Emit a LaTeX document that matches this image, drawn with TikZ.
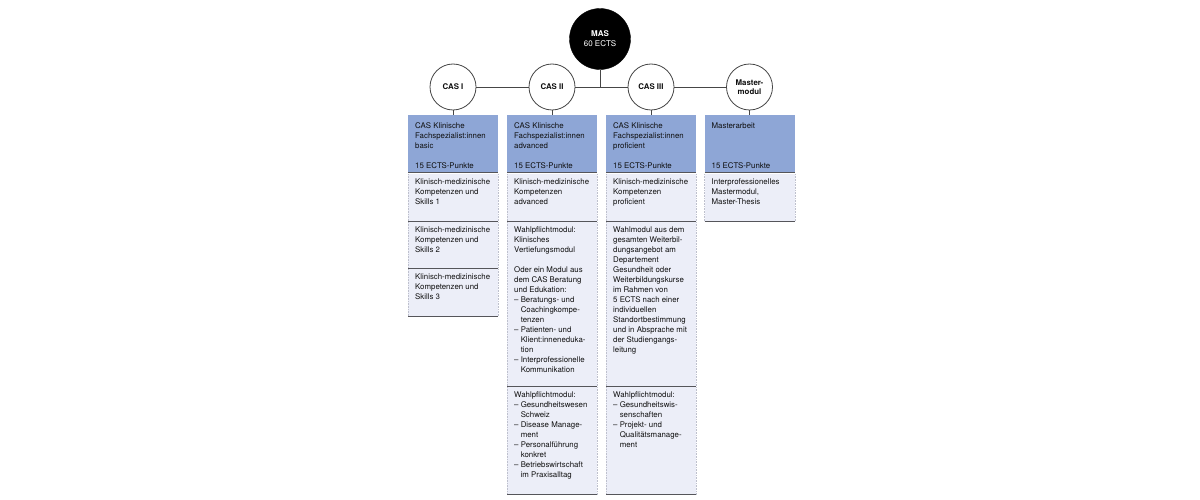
\documentclass[tikz,border=0pt]{standalone}
\usepackage{fontspec}
\setmainfont{TeX Gyre Heros}
\definecolor{hdrfill}{RGB}{142,166,214}
\definecolor{rowfill}{RGB}{236,238,248}
\definecolor{botcol}{RGB}{85,85,90}
\definecolor{sidecol}{RGB}{190,192,205}
\definecolor{txtcol}{RGB}{15,15,15}
\definecolor{linecol}{RGB}{70,70,70}
\newcommand\hng{\hphantom{–\ }}
\tikzset{
  boxtext/.style={anchor=north west, inner xsep=7pt, inner ysep=0pt, align=left, text=txtcol,
    font=\fontsize{7.85}{10}\selectfont},
  hdrbox/.style={fill=hdrfill, draw=none, anchor=north west, minimum width=90pt, inner sep=0pt},
  rowbox/.style={fill=rowfill, draw=none, anchor=north west, minimum width=90pt, inner sep=0pt},
  circ/.style={circle, draw=linecol, line width=0.8pt, fill=white, minimum size=46pt, inner sep=0pt,
    align=center, font=\fontsize{7.85}{9.5}\selectfont\bfseries, text=txtcol},
  masc/.style={circle, fill=black, draw=black, minimum size=61pt, inner sep=0pt, align=center,
    text=white, font=\fontsize{8}{10}\selectfont},
  conn/.style={draw=linecol, line width=0.8pt},
  sidel/.style={draw=sidecol, line width=0.6pt, densely dotted},
  botl/.style={draw=botcol, line width=1pt}
}
\begin{document}
\begin{tikzpicture}[x=1pt,y=-1pt]
\useasboundingbox (0,0) rectangle (1200,500);
% circles
\node[masc] (mas) at (600,39) {\textbf{MAS}\\60 ECTS};
\node[circ] (c1) at (453,87) {CAS I};
\node[circ] (c2) at (552,87) {CAS II};
\node[circ] (c3) at (651,87) {CAS III};
\node[circ] (c4) at (749.5,87) {Master-\\modul};
\coordinate (j) at (mas.south |- c2.east);
\draw[conn] (c1) -- (c2) (c2) -- (c3) (c3) -- (c4);
\draw[conn] (mas.south) -- (j);
% boxes
\node[hdrbox, minimum height=57pt] (h1) at (408,115) {};
\node[hdrbox, minimum height=57pt] (h2) at (507,115) {};
\node[hdrbox, minimum height=57pt] (h3) at (606,115) {};
\node[hdrbox, minimum height=57pt] (h4) at (704.5,115) {};
\node[rowbox, minimum height=47pt] (r11) at (408,174) {};
\node[rowbox, minimum height=46pt] (r12) at (408,222) {};
\node[rowbox, minimum height=47pt] (r13) at (408,269) {};
\node[rowbox, minimum height=47pt] (r21) at (507,174) {};
\node[rowbox, minimum height=164pt] (r22) at (507,222) {};
\node[rowbox, minimum height=107pt] (r23) at (507,387) {};
\node[rowbox, minimum height=47pt] (r31) at (606,174) {};
\node[rowbox, minimum height=164pt] (r32) at (606,222) {};
\node[rowbox, minimum height=107pt] (r33) at (606,387) {};
\node[rowbox, minimum height=47pt] (r41) at (704.5,174) {};
\foreach \n in {r11,r12,r13,r21,r22,r23,r31,r32,r33,r41} {
  \draw[sidel] (\n.north west) -- (\n.south west) (\n.north east) -- (\n.south east);
}
\foreach \n in {h1,h2,h3,h4,r11,r12,r13,r21,r22,r23,r31,r32,r33,r41} {
  \draw[botl] (\n.south west) -- (\n.south east);
}
\draw[conn] (c1.south) -- (h1.north -| c1.south);
\draw[conn] (c2.south) -- (h2.north -| c2.south);
\draw[conn] (c3.south) -- (h3.north -| c3.south);
\draw[conn] (c4.south) -- (h4.north -| c4.south);
% texts
\node[boxtext] (th1) at ([yshift=-7.5pt]h1.north west) {CAS Klinische\\Fachspezialist:innen\\basic\\[10pt]15 ECTS-Punkte};
\node[boxtext] (th2) at ([yshift=-7.5pt]h2.north west) {CAS Klinische\\Fachspezialist:innen\\advanced\\[10pt]15 ECTS-Punkte};
\node[boxtext] (th3) at ([yshift=-7.5pt]h3.north west) {CAS Klinische\\Fachspezialist:innen\\proficient\\[10pt]15 ECTS-Punkte};
\node[boxtext] (th4) at ([yshift=-7.5pt]h4.north west) {Masterarbeit\\[30pt]15 ECTS-Punkte};
\node[boxtext] (t11) at ([yshift=-5pt]r11.north west) {Klinisch-medizinische\\Kompetenzen und\\Skills 1};
\node[boxtext] (t12) at ([yshift=-5pt]r12.north west) {Klinisch-medizinische\\Kompetenzen und\\Skills 2};
\node[boxtext] (t13) at ([yshift=-5pt]r13.north west) {Klinisch-medizinische\\Kompetenzen und\\Skills 3};
\node[boxtext] (t21) at ([yshift=-5pt]r21.north west) {Klinisch-medizinische\\Kompetenzen\\advanced};
\node[boxtext] (t31) at ([yshift=-5pt]r31.north west) {Klinisch-medizinische\\Kompetenzen\\proficient};
\node[boxtext] (t41) at ([yshift=-5pt]r41.north west) {Interprofessionelles\\Mastermodul,\\Master-Thesis};
\node[boxtext] (t22) at ([yshift=-5pt]r22.north west) {Wahlpflichtmodul:\\Klinisches\\Vertiefungsmodul\\[10pt]Oder ein Modul aus\\dem CAS Beratung\\und Edukation:\\– Beratungs- und\\\hng Coachingkompe-\\\hng tenzen\\– Patienten- und\\\hng Klient:inneneduka-\\\hng tion\\– Interprofessionelle\\\hng Kommunikation};
\node[boxtext] (t32) at ([yshift=-5pt]r32.north west) {Wahlmodul aus dem\\gesamten Weiterbil-\\dungsangebot am\\Departement\\Gesundheit oder\\Weiterbildungskurse\\im Rahmen von\\5 ECTS nach einer\\individuellen\\Standortbestimmung\\und in Absprache mit\\der Studiengangs-\\leitung};
\node[boxtext] (t23) at ([yshift=-5pt]r23.north west) {Wahlpflichtmodul:\\– Gesundheitswesen\\\hng Schweiz\\– Disease Manage-\\\hng ment\\– Personalführung\\\hng konkret\\– Betriebswirtschaft\\\hng im Praxisalltag};
\node[boxtext] (t33) at ([yshift=-5pt]r33.north west) {Wahlpflichtmodul:\\– Gesundheitswis-\\\hng senschaften\\– Projekt- und\\\hng Qualitätsmanage-\\\hng ment};
\end{tikzpicture}
\end{document}
